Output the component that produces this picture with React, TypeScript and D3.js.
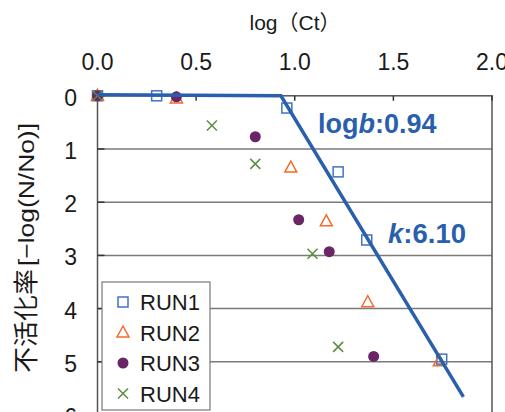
import React from 'react';
import * as d3 from 'd3';

// x = log(Ct), y = -log(N/No)
const run1X = [0, 0.3, 0.96, 1.22, 1.365, 1.745];
const run1Y = [0, 0, 0.23, 1.43, 2.71, 4.95];
const run2X = [0, 0.4, 0.98, 1.16, 1.37, 1.733];
const run2Y = [0, 0.05, 1.35, 2.36, 3.88, 4.99];
const run3X = [0, 0.4, 0.8, 1.02, 1.175, 1.4];
const run3Y = [0, 0.02, 0.77, 2.33, 2.93, 4.9];
const run4X = [0, 0.58, 0.8, 1.09, 1.22];
const run4Y = [0, 0.56, 1.28, 2.97, 4.72];

const fitX = [0, 0.93, 1.855];
const fitY = [-0.02, 0, 5.66];

const xTicks = [0, 0.5, 1.0, 1.5, 2.0];
const yTicks = [0, 1, 2, 3, 4, 5, 6];
const runNames = ['RUN1', 'RUN2', 'RUN3', 'RUN4'];

const W = 505;
const H = 412;
const FONT = '"Liberation Sans", Arial, "Noto Sans CJK JP", sans-serif';
const CJK = '"Noto Sans CJK JP", sans-serif';
const BLUE = '#2a5fad';
const ORANGE = '#f26b2d';
const PURPLE = '#6a2566';
const GREEN = '#5c8c3e';
const SQ_BLUE = '#3f74c2';

const x = d3.scaleLinear().domain([0, 2]).range([97.5, 492]);
const y = d3.scaleLinear().domain([0, 6]).range([95.8, 415]);

const zip = (xs: number[], ys: number[]) => xs.map((v, i) => [v, ys[i]] as [number, number]);

const Marker = ({ kind, cx, cy }: { kind: number; cx: number; cy: number }) => {
  if (kind === 0)
    return <rect x={cx - 5} y={cy - 5} width={10} height={10} fill="none" stroke={SQ_BLUE} strokeWidth={1.5} />;
  if (kind === 1)
    return (
      <path
        d={`M${cx},${cy - 6.5}L${cx + 6},${cy + 4.5}L${cx - 6},${cy + 4.5}Z`}
        fill="none"
        stroke={ORANGE}
        strokeWidth={1.5}
      />
    );
  if (kind === 2) return <circle cx={cx} cy={cy} r={5.5} fill={PURPLE} />;
  return (
    <path
      d={`M${cx - 5},${cy - 5}L${cx + 5},${cy + 5}M${cx - 5},${cy + 5}L${cx + 5},${cy - 5}`}
      stroke={GREEN}
      strokeWidth={1.5}
    />
  );
};

export default function App() {
  const series = [zip(run1X, run1Y), zip(run2X, run2Y), zip(run3X, run3Y), zip(run4X, run4Y)];
  const line = d3.line<[number, number]>().x(d => x(d[0])).y(d => y(d[1]));
  const [x0, x1] = x.range();
  const [y0, y1] = y.range();

  return (
    <div style={{ position: 'absolute', left: 0, top: 0 }}>
      <svg width={W} height={H} style={{ display: 'block', background: '#fff' }} fontFamily={FONT}>
        {/* gridlines */}
        {yTicks.filter(t => t > 0).map(t => (
          <line key={t} x1={x0} x2={x1} y1={y(t)} y2={y(t)} stroke="#7a7a7a" strokeWidth={1.5} />
        ))}
        {/* frame */}
        <rect x={x0} y={y0} width={x1 - x0} height={y1 - y0} fill="none" stroke="#555" strokeWidth={1.5} />
        {/* ticks */}
        {yTicks.map(t => (
          <line key={'yt' + t} x1={x0} x2={x0 + 7} y1={y(t)} y2={y(t)} stroke="#333" strokeWidth={1.5} />
        ))}
        {xTicks.map(t => (
          <line key={'xt' + t} x1={x(t)} x2={x(t)} y1={y0} y2={y0 + 5} stroke="#333" strokeWidth={1.5} />
        ))}
        {/* tick labels */}
        {xTicks.map(t => (
          <text key={'xl' + t} x={x(t)} y={70} textAnchor="middle" fontSize={23} fill="#1a1a1a">
            {d3.format('.1f')(t)}
          </text>
        ))}
        {yTicks.map(t => (
          <text key={'yl' + t} x={77} y={y(t) + 10} textAnchor="end" fontSize={23} fill="#1a1a1a">
            {t}
          </text>
        ))}
        {/* axis titles */}
        <text x={295} y={30} textAnchor="middle" fontSize={21} fill="#1a1a1a">
          log（Ct）
        </text>
        <g transform="translate(35,373) rotate(-90)" fill="#1a1a1a">
          <text x={0} y={0} fontFamily={CJK} fontSize={25} textLength={104} lengthAdjust="spacingAndGlyphs">
            不活化率
          </text>
          <text x={107} y={-1} fontSize={22} textLength={143} lengthAdjust="spacingAndGlyphs">
            [−log(N/No)]
          </text>
        </g>
        {/* data */}
        {series.map((pts, k) =>
          pts.map((p, i) => <Marker key={k + '-' + i} kind={k} cx={x(p[0])} cy={y(p[1])} />)
        )}
        {/* fitted line */}
        <path d={line(zip(fitX, fitY)) || ''} fill="none" stroke={BLUE} strokeWidth={3.5} />
        {/* annotations */}
        <text x={318} y={133} fontSize={27} fontWeight="bold" fill={BLUE}>
          log<tspan fontStyle="italic">b</tspan>:0.94
        </text>
        <text x={388} y={243} fontSize={27.5} fontWeight="bold" fill={BLUE}>
          <tspan fontStyle="italic">k</tspan>:6.10
        </text>
        {/* legend */}
        <rect x={102} y={282} width={108} height={128} fill="#fff" stroke="#777" strokeWidth={1.2} />
        {runNames.map((n, i) => (
          <g key={n}>
            <Marker kind={i} cx={123} cy={302 + i * 30.5} />
            <text x={140} y={302 + i * 30.5 + 8} fontSize={22} fill="#1a1a1a">
              {n}
            </text>
          </g>
        ))}
      </svg>
    </div>
  );
}
